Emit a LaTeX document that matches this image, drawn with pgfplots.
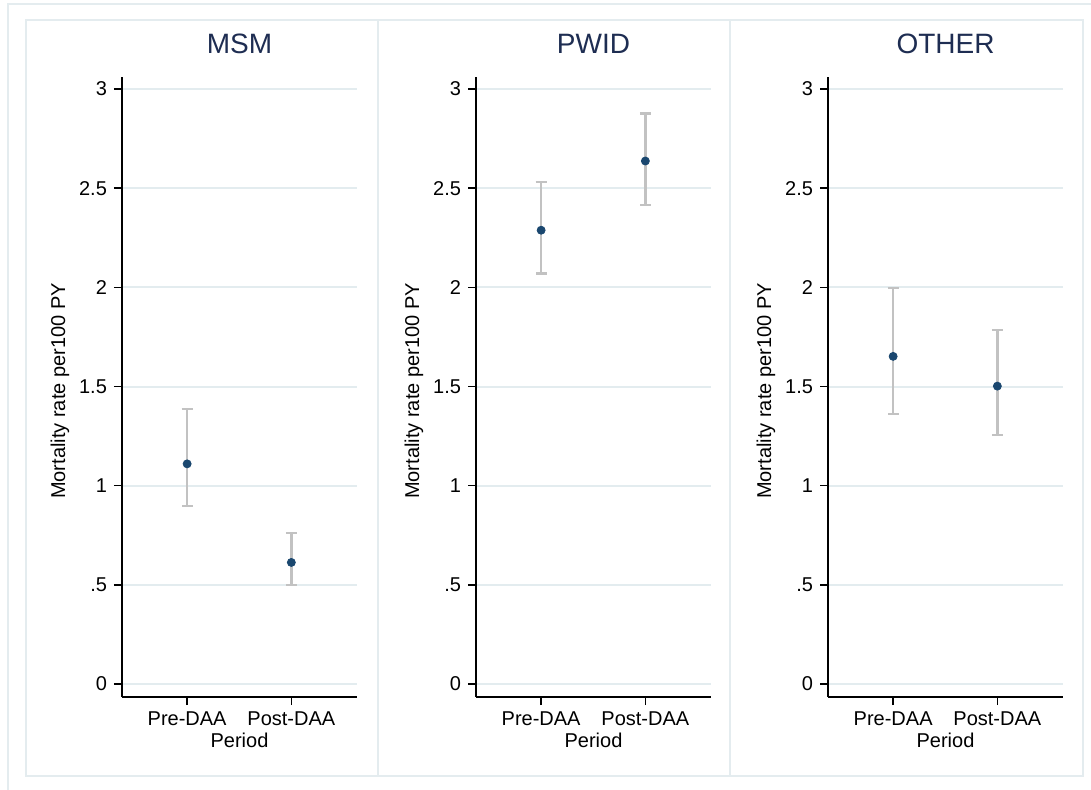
\documentclass[border=0pt]{standalone}
\usepackage{fontspec}
\setmainfont{Liberation Sans}
\usepackage{pgfplots}
\pgfplotsset{compat=1.18}
\definecolor{mk}{HTML}{1A476F}
\definecolor{eb}{HTML}{C2C2C2}
\definecolor{gr}{HTML}{E3ECEF}
\definecolor{fr}{HTML}{E4ECEF}
\definecolor{tt}{HTML}{1E2D52}

\pgfplotstableread{
x y ep em
1 1.110 0.275 0.212
2 0.613 0.148 0.114
}\msm
\pgfplotstableread{
x y ep em
1 2.288 0.243 0.218
2 2.637 0.240 0.222
}\pwid
\pgfplotstableread{
x y ep em
1 1.652 0.346 0.290
2 1.502 0.283 0.246
}\other

\pgfplotsset{panel/.style={
  scale only axis, width=117.5pt, height=310pt,
  anchor=south west,
  xmin=0.375, xmax=2.63, ymin=-0.0656, ymax=3.0605,
  axis x line*=bottom, axis y line*=left,
  axis line style={line width=1pt, -},
  xtick={1,2}, xticklabels={Pre-DAA,Post-DAA},
  ytick={0,0.5,1,1.5,2,2.5,3}, yticklabels={0,.5,1,1.5,2,2.5,3},
  tick style={black, line width=0.8pt},
  major tick length=4pt, tick align=outside,
  ymajorgrids, grid style={gr, line width=1pt},
  ticklabel style={font=\fontsize{10}{12}\selectfont},
  xticklabel style={anchor=base, yshift=-10pt},
  xlabel={Period},
  xlabel style={at={(axis description cs:0.5,0)}, anchor=base, yshift=-25pt, font=\fontsize{10}{12}\selectfont},
  ylabel={Mortality rate per100 PY},
  ylabel style={at={(axis description cs:-0.264,0.4935)}, anchor=center, font=\fontsize{10}{12}\selectfont},
  title style={at={(axis description cs:0.5,1)}, anchor=base, yshift=6pt, font=\fontsize{14}{16}\selectfont, text=tt},
  clip=false,
}}
\pgfplotsset{pts/.style={only marks, mark=*, mark size=2pt, mark options={fill=mk, draw=mk},
  error bars/.cd, y dir=both, y explicit,
  error bar style={eb, line width=1.3pt},
  error mark options={eb, line width=1.1pt, mark size=2.75pt, rotate=90}}}

\begin{document}
\begin{tikzpicture}
\clip (0,0) rectangle (545.5pt,-394.5pt);
\fill[white] (0,0) rectangle (545.5pt,-394.5pt);
\draw[fr, line width=1pt] (4pt,-2pt) rectangle (560pt,-410pt);
\draw[fr, line width=1pt] (13pt,-10pt) rectangle (189pt,-388pt);
\draw[fr, line width=1pt] (189pt,-10pt) rectangle (365pt,-388pt);
\draw[fr, line width=1pt] (365pt,-10pt) rectangle (541.5pt,-388pt);

\begin{axis}[panel, at={(61pt,-348.5pt)}, title={MSM}]
\addplot[pts] table[x=x, y=y, y error plus=ep, y error minus=em]{\msm};
\end{axis}
\begin{axis}[panel, at={(238pt,-348.5pt)}, title={PWID}]
\addplot[pts] table[x=x, y=y, y error plus=ep, y error minus=em]{\pwid};
\end{axis}
\begin{axis}[panel, at={(414pt,-348.5pt)}, title={OTHER}]
\addplot[pts] table[x=x, y=y, y error plus=ep, y error minus=em]{\other};
\end{axis}
\end{tikzpicture}
\end{document}
